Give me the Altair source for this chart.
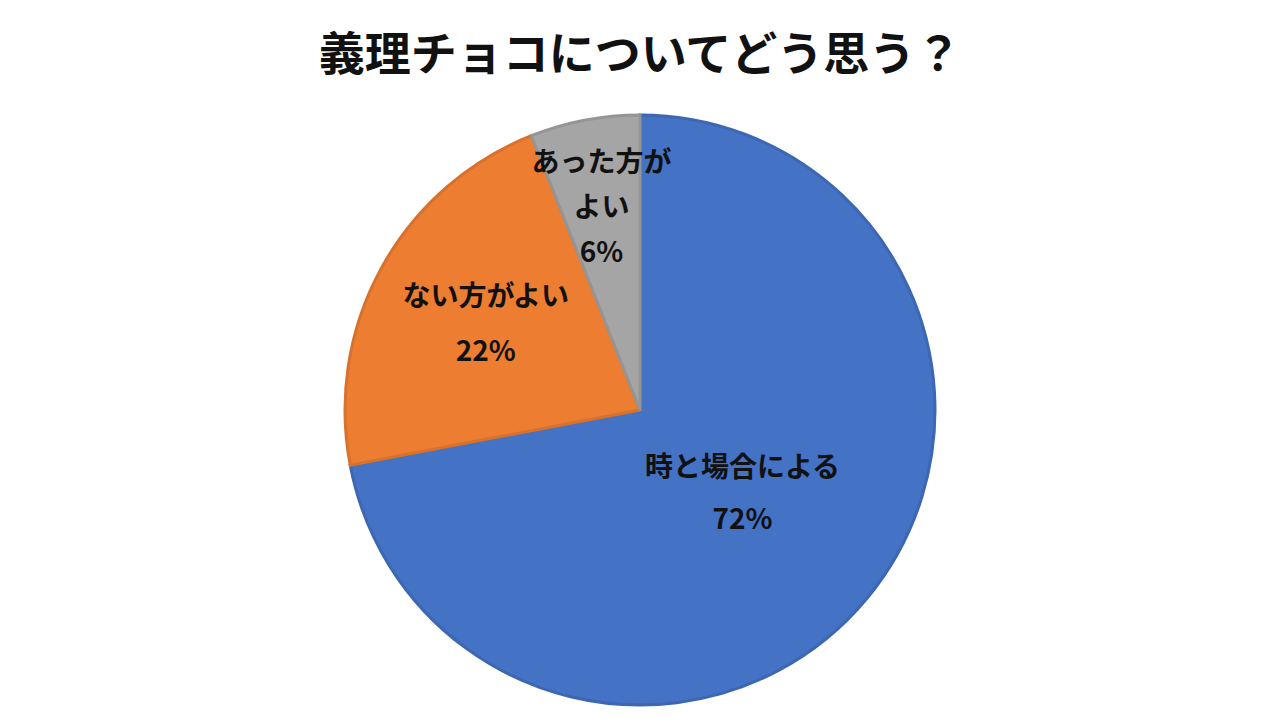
import altair as alt
import pandas as pd

title_text = "義理チョコについてどう思う？"
categories = ["時と場合による", "ない方がよい", "あった方がよい"]
values = [72, 22, 6]
labels = ["時と場合による\n72%", "ない方がよい\n22%", "あった方が\nよい\n6%"]
fills = ["#4472C4", "#ED7D31", "#A5A5A5"]
strokes = ["#3D67B3", "#D8712C", "#959595"]

df = pd.DataFrame({
    "category": categories,
    "value": values,
    "label": labels,
    "idx": list(range(len(categories))),
})

CX, CY = 632, 402
R = 295
FONT = "Noto Sans CJK JP"

base = alt.Chart(df).encode(
    theta=alt.Theta("value:Q", stack=True),
    order=alt.Order("idx:Q"),
    x=alt.value(CX),
    y=alt.value(CY),
)

pie = base.mark_arc(outerRadius=R, strokeWidth=3).encode(
    color=alt.Color("category:N", scale=alt.Scale(domain=categories, range=fills), legend=None),
    stroke=alt.Stroke("category:N", scale=alt.Scale(domain=categories, range=strokes), legend=None),
)

def label_layer(cat, radius, line_height, n_lines):
    return base.transform_calculate(
        lbl=f"datum.category == '{cat}' ? datum.label : ''"
    ).mark_text(
        radius=radius, font=FONT, fontSize=28, fontWeight="bold", color="#111111",
        lineBreak="\n", lineHeight=line_height, align="center", baseline="middle",
        dy=-(n_lines - 1) * line_height / 2,
    ).encode(text="lbl:N")

lab_blue = label_layer(categories[0], 133, 52, 2)
lab_orange = label_layer(categories[1], 176, 55, 2)
lab_gray = label_layer(categories[2], 205, 45, 3)

title = alt.Chart(pd.DataFrame({"t": [title_text]})).mark_text(
    font=FONT, fontSize=46, fontWeight="bold", color="#111111", align="center", baseline="middle"
).encode(text="t:N", x=alt.value(CX), y=alt.value(48))

chart = alt.layer(pie, lab_blue, lab_orange, lab_gray, title).properties(
    width=1264, height=711, autosize=alt.AutoSizeParams(type="none"), padding=0
).configure_view(stroke=None)

chart.save("out.html", embed_options={"renderer": "svg", "actions": False})
